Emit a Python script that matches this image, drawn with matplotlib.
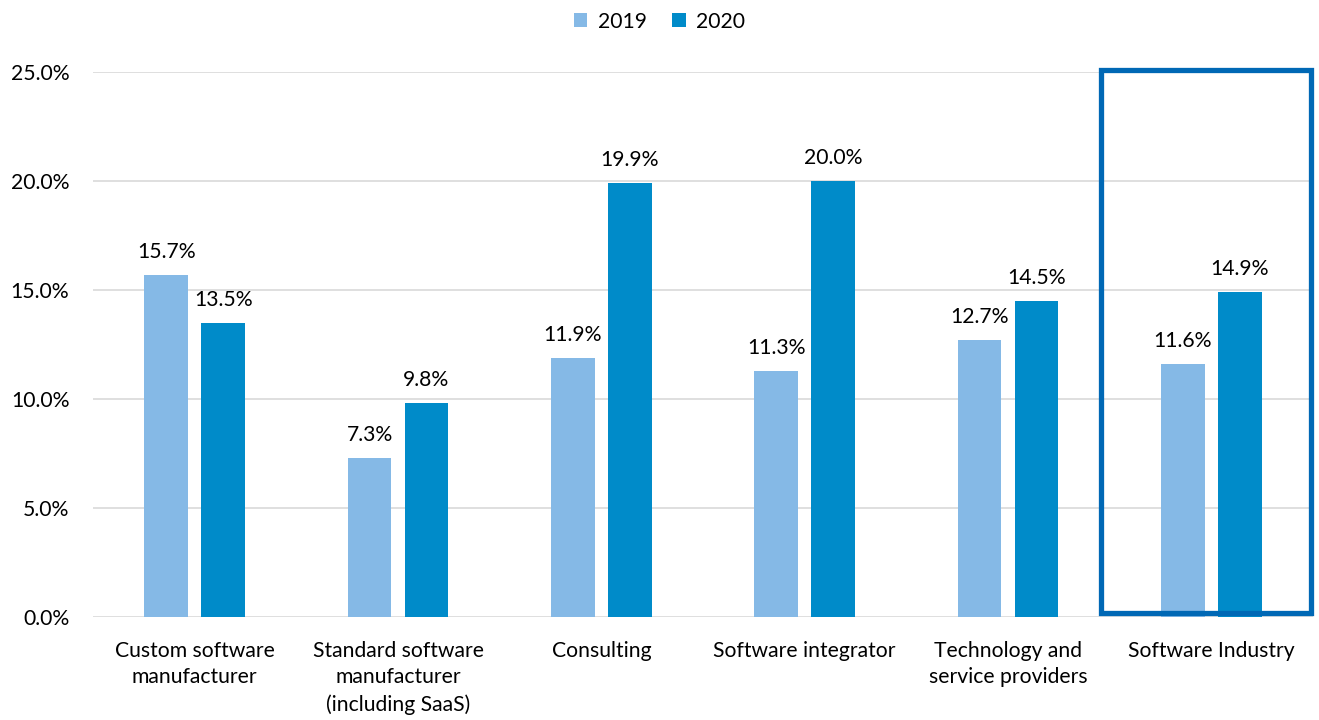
import matplotlib.pyplot as plt
from matplotlib.patches import Rectangle
import numpy as np

plt.rcParams['font.family'] = ['Lato', 'DejaVu Sans']

categories = ['Custom software\nmanufacturer', 'Standard software\nmanufacturer\n(including SaaS)',
              'Consulting', 'Software integrator', 'Technology and\nservice providers', 'Software Industry']
vals_2019 = [15.7, 7.3, 11.9, 11.3, 12.7, 11.6]
vals_2020 = [13.5, 9.8, 19.9, 20.0, 14.5, 14.9]

c19 = '#85B9E6'
c20 = '#008BC9'
fs = 15.2

fig = plt.figure(figsize=(13.19, 7.2), dpi=100)
ax = fig.add_axes([0.0705, 0.143, 0.925, 0.757])

x = np.arange(len(categories))
w = 0.215
b1 = ax.bar(x - 0.14, np.array(vals_2019) / 100, w, color=c19, label='2019', zorder=3)
b2 = ax.bar(x + 0.14, np.array(vals_2020) / 100, w, color=c20, label='2020', zorder=3)

for bars, vals in [(b1, vals_2019), (b2, vals_2020)]:
    for b, v in zip(bars, vals):
        ax.text(b.get_x() + b.get_width() / 2, b.get_height() + 0.006, f'{v:.1f}%',
                ha='center', va='bottom', fontsize=fs)

ax.set_xlim(-0.5, 5.5)
ax.set_ylim(0, 0.25)
ax.set_yticks(np.arange(0, 0.251, 0.05))
ax.set_yticklabels([f'{t * 100:.1f}%' for t in np.arange(0, 0.251, 0.05)], fontsize=fs)
ax.set_xticks(x)
ax.set_xticklabels(categories, fontsize=fs, linespacing=1.42, va='top')
ax.tick_params(length=0, axis='x', pad=17)
ax.tick_params(length=0, axis='y', pad=17)
ax.grid(axis='y', color='#D9D9D9', linewidth=1.2, zorder=0)
for s in ax.spines.values():
    s.set_visible(False)

# highlight box around total
ax.add_patch(Rectangle((4.458, 0.0018), 1.03, 0.249, fill=False, edgecolor='#0068B5',
                       linewidth=3.8, zorder=4, clip_on=False))

fig.legend(handles=[b1, b2], loc='upper center', bbox_to_anchor=(0.5, 1.01), ncol=2,
           frameon=False, fontsize=fs, handlelength=0.65, handleheight=0.65,
           handletextpad=0.5, columnspacing=1.2)

fig.savefig('out.png', dpi=100)
